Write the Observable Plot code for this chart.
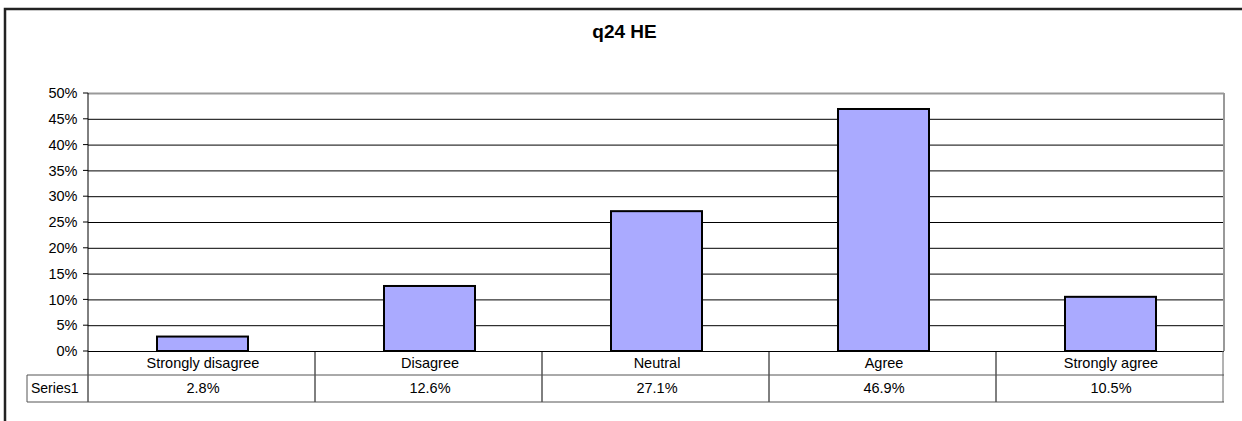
<!DOCTYPE html>
<html>
<head>
<meta charset="utf-8">
<script src="https://cdn.jsdelivr.net/npm/d3@7"></script>
<script src="https://cdn.jsdelivr.net/npm/@observablehq/plot@0.6"></script>
<style>
  html, body { margin: 0; padding: 0; background: #fff; }
  #chart svg { display: block; font-family: "Liberation Sans", Arial, sans-serif; }
</style>
</head>
<body>
<div id="chart"></div>
<script>
const title = "q24 HE";
const seriesName = "Series1";
const categories = ["Strongly disagree", "Disagree", "Neutral", "Agree", "Strongly agree"];
const values = [0.028, 0.126, 0.271, 0.469, 0.105];
const yTicks = [0, 0.05, 0.10, 0.15, 0.20, 0.25, 0.30, 0.35, 0.40, 0.45, 0.50];

const data = categories.map((c, i) => ({category: c, value: values[i]}));
const gridTicks = yTicks.filter(t => t > 0 && t < 0.5);

const W = 1242, H = 421;
const chart = Plot.plot({
  width: W,
  height: H,
  marginLeft: 88,
  marginRight: 18,
  marginTop: 93,
  marginBottom: 70,
  style: {fontFamily: '"Liberation Sans", Arial, sans-serif', fontSize: "14px", background: "#fff"},
  x: {domain: categories, paddingInner: 0.6, paddingOuter: 0.3, axis: null},
  y: {domain: [0, 0.5], axis: null},
  marks: [
    Plot.ruleY(gridTicks, {stroke: "#000", strokeWidth: 1}),
    Plot.ruleY([0.5], {stroke: "#999", strokeWidth: 2}),
    Plot.ruleY([0], {stroke: "#000", strokeWidth: 1}),
    Plot.barY(data, {x: "category", y: "value", fill: "#aaaaff", stroke: "#000", strokeWidth: 2}),
    Plot.text(yTicks, {y: d => d, text: d => d3.format(".0%")(d), frameAnchor: "left", textAnchor: "end", dx: -11, fill: "#000", fontSize: 14.5}),
    Plot.text(categories, {x: d => d, y: 0, text: d => d, dy: 12, fill: "#000", fontSize: 14.5}),
    Plot.text(data, {x: "category", y: 0, text: d => d3.format(".1%")(d.value), dy: 37, fill: "#000", fontSize: 14.5}),
    Plot.text([title], {frameAnchor: "top", text: d => d, dx: -32, dy: -69, fontWeight: "bold", fontSize: 19, fill: "#000"})
  ]
});

document.getElementById("chart").appendChild(chart);

// Decorations: table grid, axis line, plot border, outer frame — derived from the scales
const svg = d3.select(chart);
const xs = chart.scale("x");
const ys = chart.scale("y");
const step = xs.step;
const left = xs.range[0];
const right = xs.range[1];
const y0 = ys.apply(0);
const yTop = ys.apply(0.5);
const row1 = y0 + 24;
const row2 = y0 + 51;
const seriesLeft = 27;
const g = svg.append("g").attr("fill", "none");

// y tick marks left of the axis
yTicks.forEach(t => {
  g.append("line").attr("x1", left - 5).attr("x2", left).attr("y1", ys.apply(t)).attr("y2", ys.apply(t)).attr("stroke", "#000");
});

// right border of plot area (gray)
g.append("line").attr("x1", right).attr("x2", right).attr("y1", yTop).attr("y2", y0).attr("stroke", "#999").attr("stroke-width", 2);
// left axis line extending into table
g.append("line").attr("x1", left).attr("x2", left).attr("y1", yTop).attr("y2", row2).attr("stroke", "#000");
// category separators
categories.forEach((c, i) => {
  const bx = left + step * (i + 1);
  g.append("line").attr("x1", bx).attr("x2", bx).attr("y1", y0).attr("y2", row2).attr("stroke", i === categories.length - 1 ? "#666" : "#000");
});
// table horizontals
g.append("line").attr("x1", seriesLeft).attr("x2", right).attr("y1", row1).attr("y2", row1).attr("stroke", "#555");
g.append("line").attr("x1", seriesLeft).attr("x2", right).attr("y1", row2).attr("y2", row2).attr("stroke", "#555");
g.append("line").attr("x1", seriesLeft).attr("x2", seriesLeft).attr("y1", row1).attr("y2", row2).attr("stroke", "#555");
// series label
svg.append("text").attr("x", seriesLeft + 4).attr("y", (row1 + row2) / 2).attr("dy", "0.35em")
  .attr("text-anchor", "start").attr("font-size", 14).attr("fill", "#000").text(seriesName);
// outer frame
g.append("rect").attr("x", 5).attr("y", 9).attr("width", W + 20).attr("height", H + 20)
  .attr("stroke", "#222").attr("stroke-width", 2.5);
</script>
</body>
</html>
